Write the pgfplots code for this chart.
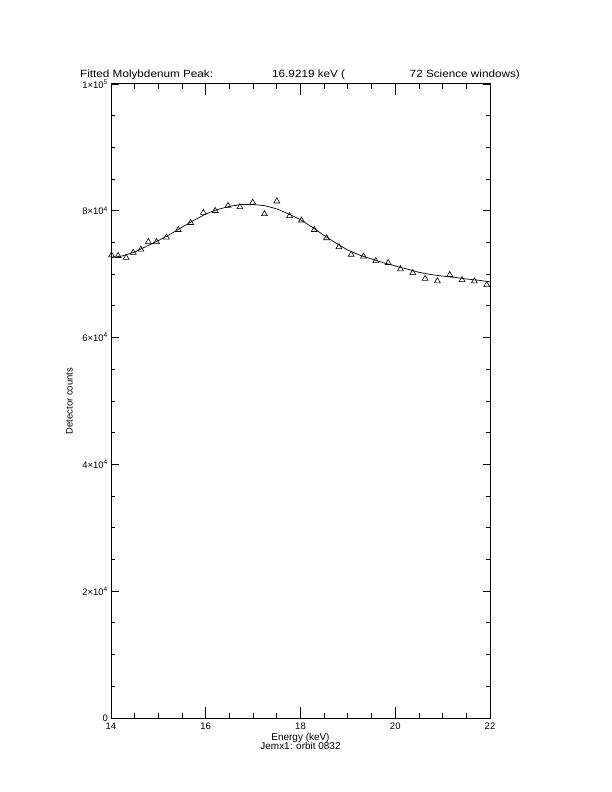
\documentclass[border=0pt]{standalone}
\usepackage{fontspec}
\setmainfont{Liberation Sans}
\newfontfamily\wide[FakeStretch=1.12]{Liberation Sans}
\usepackage{pgfplots}
\pgfplotsset{compat=1.18}
\usepackage{pgfplotstable}

% measured counts (energy in keV, counts)
\pgfplotstableread{
E      C
14.01  73000
14.15  72900
14.32  72600
14.47  73400
14.63  73900
14.79  75100
14.96  75100
15.17  75800
15.42  77000
15.68  78100
15.95  79700
16.20  80000
16.47  80800
16.72  80600
16.99  81300
17.24  79500
17.50  81500
17.77  79200
18.02  78500
18.29  77000
18.55  75700
18.81  74300
19.07  73100
19.33  72800
19.59  72100
19.85  71800
20.11  70800
20.37  70200
20.63  69300
20.89  68900
21.15  69900
21.41  69100
21.67  68900
21.93  68300
}\measured

% fitted curve
\pgfplotstableread{
E      C
14.00  72600
14.25  72900
14.50  73500
14.75  74400
15.00  75300
15.25  76300
15.50  77400
15.75  78500
16.00  79500
16.25  80200
16.50  80700
16.75  81000
17.00  81000
17.25  80800
17.50  80300
17.75  79500
18.00  78600
18.25  77400
18.50  76100
18.75  74900
19.00  73800
19.25  73000
19.50  72400
19.75  71800
20.00  71300
20.25  70800
20.50  70300
20.75  69950
21.00  69700
21.25  69500
21.50  69250
21.75  69050
22.00  68800
}\fitted

\begin{document}
\begin{tikzpicture}
\begin{axis}[
  scale only axis,
  width=379bp, height=634bp,
  xmin=14, xmax=22, ymin=0, ymax=100000,
  xtick={14,16,18,20,22},
  ytick={0,20000,40000,60000,80000,100000},
  yticklabels={0,2×10\textsuperscript{4},4×10\textsuperscript{4},6×10\textsuperscript{4},8×10\textsuperscript{4},1×10\textsuperscript{5}},
  scaled y ticks=false,
  minor x tick num=3, minor y tick num=3,
  tick align=inside, tick pos=both,
  xtick style={/pgfplots/major tick length=11bp, /pgfplots/minor tick length=5.5bp, line width=0.8bp, black},
  ytick style={/pgfplots/major tick length=7.5bp, /pgfplots/minor tick length=4bp, line width=0.8bp, black},
  axis line style={line width=1bp},
  ticklabel style={font=\fontsize{9.5}{10}\selectfont},
  xticklabel style={inner sep=1bp, yshift=-4bp},
  yticklabel style={inner sep=3bp},
  /pgf/number format/assume math mode=true,
  ylabel={Detector counts},
  ylabel style={at={(axis description cs:-0.11,0.5)}, anchor=center, font=\fontsize{9.5}{10}\selectfont},
  clip=false,
]
\addplot[black, line width=0.7bp] table[x=E, y=C] {\fitted};
\addplot[only marks, mark=triangle, mark size=3.4bp, mark options={line width=0.6bp, black}] table[x=E, y=C] {\measured};
\end{axis}
\node[anchor=base west, inner sep=0, font=\wide\fontsize{10.5}{12}\selectfont] at ([shift={(-31bp,6bp)}]current axis.north west) {Fitted Molybdenum Peak:};
\node[anchor=base west, inner sep=0, font=\wide\fontsize{10.5}{12}\selectfont] at ([shift={(161bp,6bp)}]current axis.north west) {16.9219 keV (};
\node[anchor=base east, inner sep=0, font=\wide\fontsize{10.5}{12}\selectfont] at ([shift={(30bp,6bp)}]current axis.north east) {72 Science windows)};
\node[anchor=north, inner sep=0, font=\fontsize{10}{10}\selectfont] at ([yshift=-15bp]current axis.south) {Energy (keV)};
\node[anchor=north, inner sep=0, font=\fontsize{10}{10}\selectfont] at ([yshift=-24bp]current axis.south) {Jemx1: orbit 0832};
\path ([shift={(-111bp,-74bp)}]current axis.south west) rectangle ([shift={(122bp,84bp)}]current axis.north east);
\end{tikzpicture}
\end{document}
